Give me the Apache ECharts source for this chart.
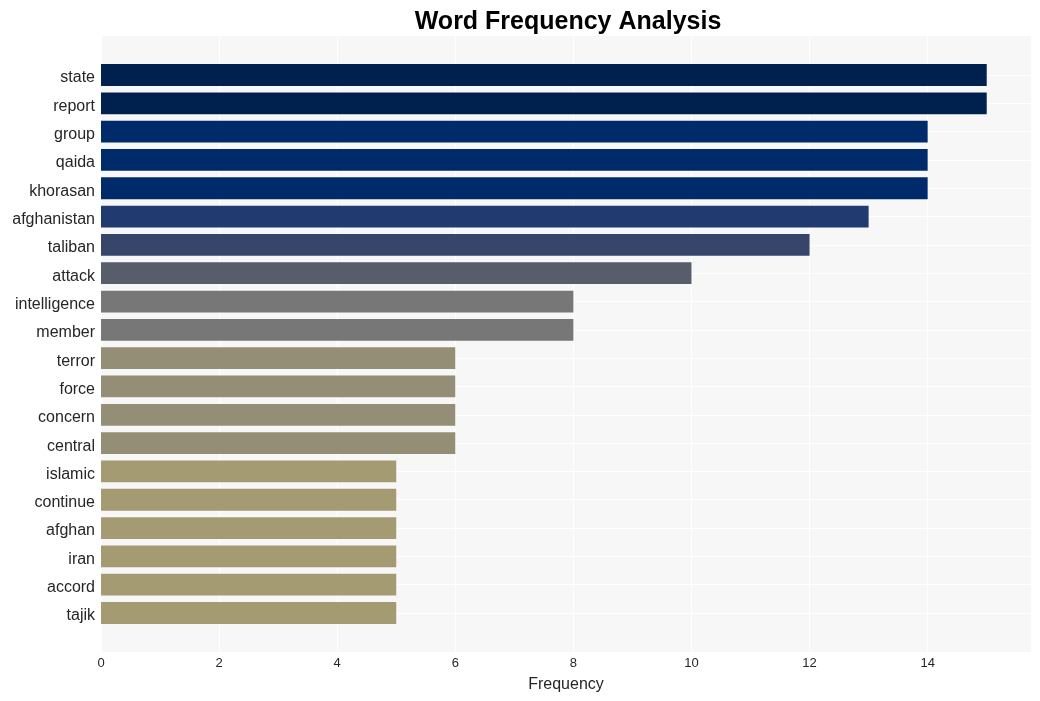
<!DOCTYPE html>
<html>
<head>
<meta charset="utf-8">
<script src="https://cdn.jsdelivr.net/npm/echarts@6/dist/echarts.min.js"></script>
<style>html,body{margin:0;padding:0;background:#fff}#c{width:1040px;height:701px}</style>
</head>
<body>
<div id="c"></div>
<script>
const categories = ["state","report","group","qaida","khorasan","afghanistan","taliban","attack","intelligence","member","terror","force","concern","central","islamic","continue","afghan","iran","accord","tajik"];
const frequencies = [15,15,14,14,14,13,12,10,8,8,6,6,6,6,5,5,5,5,5,5];
const xTicks = [0,2,4,6,8,10,12,14];

const colorByValue = {15:"#00214e",14:"#002b6b",13:"#213b70",12:"#37456b",10:"#585d6c",8:"#777777",6:"#958e77",5:"#a59b73"};

const L = 101, R = 9;
const FONT = 'Liberation Sans, Arial, sans-serif';
const chart = echarts.init(document.getElementById('c'), null, {renderer:'canvas'});
const xMax = 15.75;
const textColor = '#262626';
chart.setOption({
  animation:false,
  title:{text:'Word Frequency Analysis', left:563, textAlign:'center', top:5,
    textStyle:{fontFamily:FONT, fontWeight:'bold', fontSize:25, color:'#000'}},
  grid:[
    {left:L, right:R, top:36, bottom:49, show:true, backgroundColor:'#f7f7f7', borderWidth:0},
    {left:L, right:R, top:60.85, bottom:701-627.15},
    {left:L, right:R, top:75, bottom:701-613}
  ],
  xAxis:[
    {gridIndex:0, type:'value', min:0, max:xMax, interval:2,
      axisLine:{show:false}, axisTick:{show:false},
      splitLine:{show:true, lineStyle:{color:'#ffffff', width:1}},
      axisLabel:{showMaxLabel:false, color:textColor, fontSize:13, margin:5, fontFamily:FONT,
        formatter:v=> xTicks.includes(v) ? String(v) : ''},
      name:'Frequency', nameLocation:'middle', nameGap:25,
      nameTextStyle:{color:textColor, fontSize:16, fontFamily:FONT}},
    {gridIndex:1, type:'value', min:0, max:xMax, show:false, splitLine:{show:false}},
    {gridIndex:2, type:'value', min:0, max:xMax, show:false, splitLine:{show:false}}
  ],
  yAxis:[
    {gridIndex:0, type:'value', show:false, splitLine:{show:false}},
    {gridIndex:1, type:'category', data:categories, inverse:true,
      axisLine:{show:false}, axisTick:{show:false}, splitLine:{show:false},
      axisLabel:{color:textColor, fontSize:16, margin:6, fontFamily:FONT, lineHeight:6, verticalAlign:'top'}},
    {gridIndex:2, type:'category', data:categories, inverse:true, boundaryGap:false,
      axisLine:{show:false}, axisTick:{show:false}, axisLabel:{show:false},
      splitLine:{show:true, lineStyle:{color:'#ffffff', width:1}}}
  ],
  series:[
    {type:'bar', xAxisIndex:1, yAxisIndex:1, barWidth:'77%', z:3,
      data:frequencies.map(v=>({value:v, itemStyle:{color:colorByValue[v]}}))}
  ]
});
</script>
</body>
</html>
